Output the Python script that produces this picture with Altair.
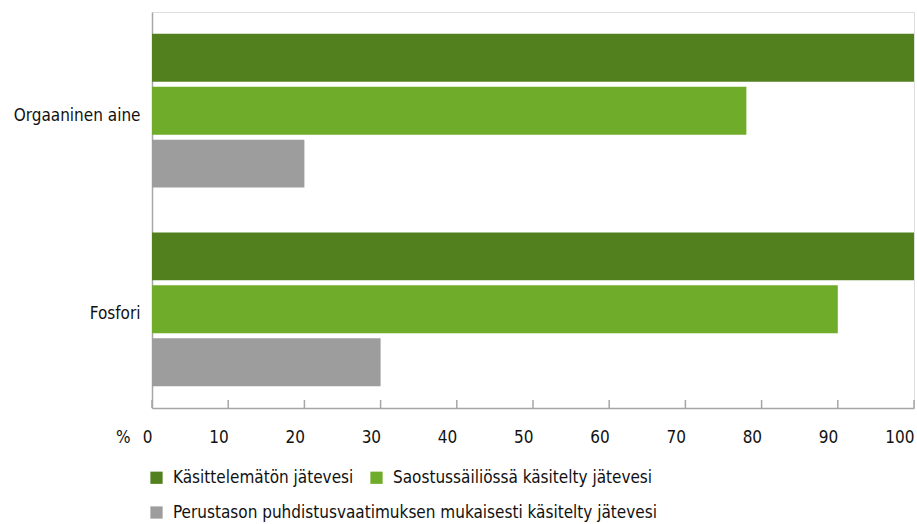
import altair as alt
import pandas as pd

# Relative load of wastewater by treatment level (untreated = 100 %)
categories = ["Orgaaninen aine", "Fosfori"]
series = [
    "Käsittelemätön jätevesi",
    "Saostussäiliössä käsitelty jätevesi",
    "Perustason puhdistusvaatimuksen mukaisesti käsitelty jätevesi",
]
untreated = [100, 100]
septic_tank = [78, 90]
basic_level = [20, 30]
tick_values = [0, 10, 20, 30, 40, 50, 60, 70, 80, 90, 100]

colors = ["#52801e", "#6fac29", "#9d9d9d"]
FONT = "DejaVu Sans Condensed"
FS = 17
AXIS_GREY = "#a6a6a6"
TEXT = "#111111"

rows = []
for vals, name in zip([untreated, septic_tank, basic_level], series):
    for cat, v in zip(categories, vals):
        rows.append({"kategoria": cat, "sarja": name, "arvo": v})
df = pd.DataFrame(rows)
ticks_df = pd.DataFrame({"t": tick_values})

W, H = 762, 396

x_scale = alt.Scale(domain=[0, 100], nice=False, zero=True)
y_scale = alt.Scale(domain=categories, paddingInner=0.226, paddingOuter=0.11)
off_scale = alt.Scale(domain=series, paddingInner=5 / 53, paddingOuter=0)

x_enc = alt.X(
    "arvo:Q",
    scale=x_scale,
    axis=alt.Axis(
        values=tick_values,
        ticks=False,
        grid=False,
        domainColor=AXIS_GREY,
        domainWidth=1.5,
        labelAlign="right",
        labelBaseline="top",
        labelPadding=21,
        labelFontSize=FS,
        labelColor=TEXT,
        labelFont=FONT,
        title="%",
        titleFont=FONT,
        titleFontSize=FS,
        titleFontWeight="normal",
        titleColor=TEXT,
        titleX=-22,
        titleY=21,
        titleAlign="right",
        titleBaseline="top",
    ),
)
y_enc = alt.Y(
    "kategoria:N",
    scale=y_scale,
    axis=alt.Axis(
        title=None,
        ticks=False,
        domainColor=AXIS_GREY,
        domainWidth=1.5,
        labelPadding=12,
        labelFontSize=FS,
        labelFont=FONT,
        labelColor=TEXT,
        labelOffset=5,
    ),
)
off_enc = alt.YOffset("sarja:N", scale=off_scale)


def legend(y):
    return alt.Legend(
        title=None,
        orient="none",
        legendX=-4,
        legendY=y,
        direction="horizontal",
        symbolType="square",
        symbolSize=150,
        symbolStrokeWidth=0,
        labelFont=FONT,
        labelFontSize=FS,
        labelColor=TEXT,
        labelOffset=8,
        labelLimit=600,
        columnPadding=14,
    )


# untreated and septic-tank bars: first legend row
bars_a = alt.Chart(df).transform_filter(
    alt.FieldOneOfPredicate(field="sarja", oneOf=series[:2])
).mark_bar().encode(
    x=x_enc,
    y=y_enc,
    yOffset=off_enc,
    color=alt.Color(
        "sarja:N",
        scale=alt.Scale(domain=series[:2], range=colors[:2]),
        legend=legend(457),
    ),
)

# basic-level treatment bars: second legend row
bars_b = alt.Chart(df).transform_filter(
    alt.FieldEqualPredicate(field="sarja", equal=series[2])
).mark_bar().encode(
    x=x_enc,
    y=y_enc,
    yOffset=off_enc,
    color=alt.Color(
        "sarja:N",
        scale=alt.Scale(domain=series[2:], range=colors[2:]),
        legend=legend(492),
    ),
)

# short tick marks pointing up into the plot from the x axis line
ticks = alt.Chart(ticks_df).mark_rule(color=AXIS_GREY, strokeWidth=1.5).encode(
    x=alt.X("t:Q", scale=x_scale),
    y=alt.value(H - 8),
    y2=alt.value(H),
)

chart = (
    alt.layer(bars_a, bars_b, ticks)
    .resolve_scale(color="independent")
    .properties(
        width=W,
        height=H,
        autosize=alt.AutoSizeParams(type="none"),
        padding={"left": 152, "top": 12, "right": 3, "bottom": 116},
    )
    .configure_view(stroke=None)
    .configure(background="white")
)

chart.save("out.html", embed_options={"renderer": "svg", "actions": False})
